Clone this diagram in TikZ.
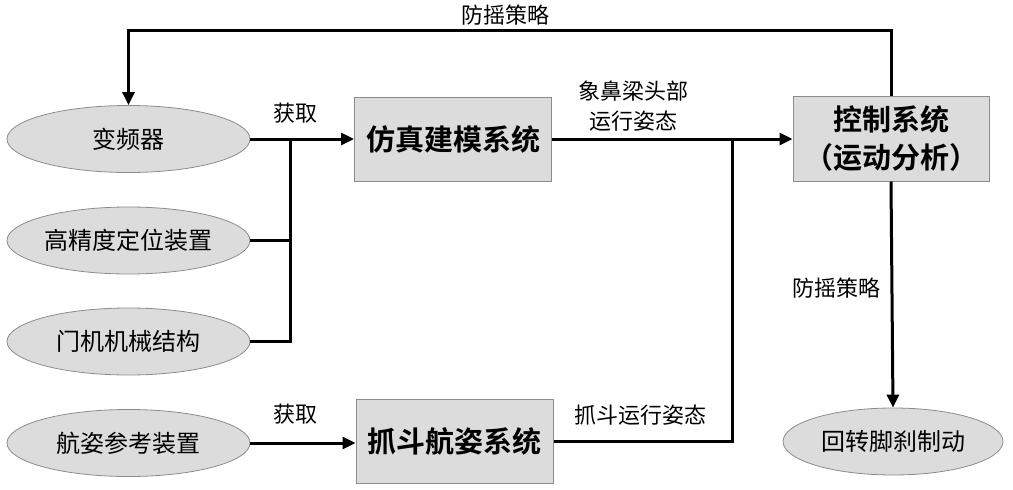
\documentclass[tikz,border=0pt]{standalone}
\usepackage{fontspec}
\setmainfont{Noto Sans CJK SC}[BoldFont={Noto Sans CJK SC Bold}]
\usetikzlibrary{arrows.meta,shapes.geometric}
\definecolor{fillgray}{HTML}{DCDCDC}
\definecolor{edgegray}{HTML}{8C8C8C}
\begin{document}
\begin{tikzpicture}[x=1pt,y=-1pt,
  oval/.style={ellipse,draw=edgegray,line width=0.8pt,fill=fillgray,minimum width=243pt,minimum height=67pt,inner sep=0pt,font=\fontsize{24}{28}\selectfont},
  sysbox/.style={rectangle,draw=edgegray,line width=1pt,fill=fillgray,minimum width=197pt,minimum height=84pt,inner sep=0pt,align=center,font=\fontsize{29}{38}\selectfont\bfseries},
  lab/.style={inner sep=0pt,align=center,font=\fontsize{22}{30}\selectfont},
  conn/.style={line width=3pt,line join=miter},
  arr/.style={conn,-{Triangle[length=13pt,width=12pt]}}]
\useasboundingbox (0,0) rectangle (1013,490);
% ellipses
\node[oval] (e1) at (128.5,139) {变频器};
\node[oval] (e2) at (128.5,240.5) {高精度定位装置};
\node[oval] (e3) at (128.5,341.5) {门机机械结构};
\node[oval] (e4) at (128.5,443) {航姿参考装置};
\node[oval,minimum width=220pt] (e5) at (893,441.5) {回转脚刹制动};
% boxes
\node[sysbox] (b1) at (453,139.5) {仿真建模系统};
\node[sysbox] (b2) at (454.5,441.5) {抓斗航姿系统};
\node[sysbox,minimum width=196pt,minimum height=85pt] (ctrl) at (891,138.5) {控制系统\\（运动分析）};
% junction coordinates
\coordinate (top) at (0,30);
\coordinate (j1) at (290,139);
\coordinate (j2) at (732,139);
% connectors
\draw[arr] (ctrl.north) -- (ctrl.north |- top) -| (e1.north);
\draw[arr] (e1.east) -- (b1.west |- e1.east);
\draw[conn] (e2.east) -| (j1);
\draw[conn] (e3.east) -| (j1);
\draw[arr] (e4.east) -- (b2.west |- e4.east);
\draw[arr] (b1.east |- j2) -- (ctrl.west |- j2);
\draw[conn] (b2.east) -| (j2);
\draw[arr] (ctrl.south) -- (e5.north);
% labels
\node[lab] (l1) at (505,15) {防摇策略};
\node[lab] (l2) at (295,113) {获取};
\node[lab] (l3) at (295,414) {获取};
\node[lab] (l4) at (633,106) {象鼻梁头部\\运行姿态};
\node[lab] (l5) at (640,415) {抓斗运行姿态};
\node[lab] (l6) at (836,288) {防摇策略};
\end{tikzpicture}
\end{document}
